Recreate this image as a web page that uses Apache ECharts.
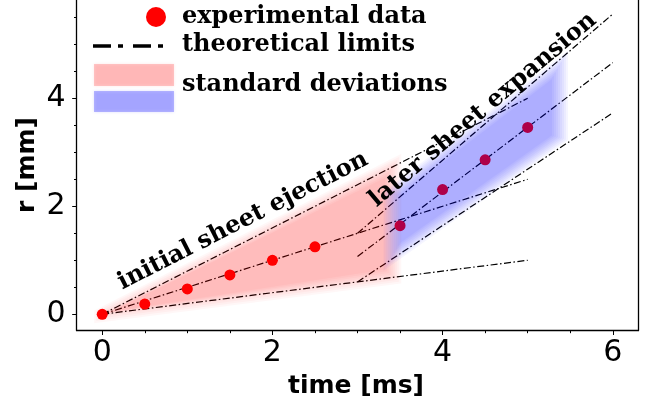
<!DOCTYPE html>
<html>
<head>
<meta charset="utf-8">
<script src="https://cdn.jsdelivr.net/npm/echarts@6/dist/echarts.min.js"></script>
<style>html,body{margin:0;padding:0;background:#fff;}#c{width:649px;height:408px;}</style>
</head>
<body>
<div id="c"></div>
<script>
// ---- data ----
const expTime = [0, 0.5, 1, 1.5, 2, 2.5, 3.5, 4, 4.5, 5];
const expRadius = [0, 0.19, 0.47, 0.73, 1.0, 1.25, 1.64, 2.31, 2.86, 3.46];

// theoretical limits: segments (t0,r0) -> (t1,r1)
const limitT0 = [0, 0, 0, 3, 3, 3];
const limitR0 = [0, 0, 0, 0.6, 1.07, 1.5];
const limitT1 = [5, 5, 5, 6, 6, 6];
const limitR1 = [1.0, 2.5, 4.0, 3.73, 4.66, 5.56];

// standard deviation bands
const initialBandT = [0, 3.42];
const initialBandLow = [0, 0.7];
const initialBandHigh = [0, 2.75];
const laterBandT = [3.4, 5.38];
const laterBandLow = [1.06, 3.27];
const laterBandHigh = [2.24, 4.62];

const majorTicks = [0, 2, 4, 6];
const tickLabels = ['0', '2', '4', '6'];
const minorTicks = [0, 0.5, 1, 1.5, 2, 2.5, 3, 3.5, 4, 4.5, 5, 5.5, 6];

const xMin = -0.3, xMax = 6.3, yMin = -0.3, yMax = 5.82;

// ---- chart ----
const chart = echarts.init(document.getElementById('c'), null, {renderer: 'canvas'});

const tickFont = {fontFamily: 'DejaVu Sans', fontSize: 30, color: '#000'};

function majorAxis(pos, isX) {
  return {
    type: 'value', min: isX ? xMin : yMin, max: isX ? xMax : yMax, position: pos,
    splitLine: {show: false},
    axisLine: {show: true, onZero: false, lineStyle: {color: '#000', width: 1.3}},
    axisTick: {show: true, length: 4.5, lineStyle: {color: '#000', width: 1}, customValues: majorTicks},
    axisLabel: Object.assign({show: true, margin: isX ? 8 : 11, customValues: majorTicks,
      formatter: v => tickLabels[majorTicks.indexOf(v)] ?? ''}, tickFont)
  };
}
function minorAxis(pos, isX) {
  return {
    type: 'value', min: isX ? xMin : yMin, max: isX ? xMax : yMax, position: pos,
    splitLine: {show: false},
    axisLine: {show: false, onZero: false},
    axisTick: {show: true, length: 2.7, lineStyle: {color: '#000', width: 1}, customValues: minorTicks},
    axisLabel: {show: false}
  };
}

const LAYERS = [-8, -6, -4, -2, 0, 2, 4, 6, 8];

function bandSeries(name, ts, lows, highs, rgb, totalAlpha, z) {
  const layerAlpha = 1 - Math.pow(1 - totalAlpha, 1 / LAYERS.length);
  return {
    type: 'custom', name, z, silent: true, xAxisIndex: 0, yAxisIndex: 0,
    data: [[ts[0], lows[0], highs[0], ts[1], lows[1], highs[1]]],
    encode: {x: [0, 3], y: [1, 2, 4, 5]},
    renderItem: function (params, api) {
      const L0 = api.coord([api.value(0), api.value(1)]);
      const H0 = api.coord([api.value(0), api.value(2)]);
      const L1 = api.coord([api.value(3), api.value(4)]);
      const H1 = api.coord([api.value(3), api.value(5)]);
      const f = (A, B, X) => A[1] + (B[1] - A[1]) * (X - A[0]) / (B[0] - A[0]);
      const children = LAYERS.map(d => {
        const X0 = L0[0] - d, X1 = L1[0] + d;
        let yh0 = f(H0, H1, X0) - d, yh1 = f(H0, H1, X1) - d;
        let yl0 = f(L0, L1, X0) + d, yl1 = f(L0, L1, X1) + d;
        if (yh0 > yl0) { const m = (yh0 + yl0) / 2; yh0 = m; yl0 = m; }
        if (yh1 > yl1) { const m = (yh1 + yl1) / 2; yh1 = m; yl1 = m; }
        return {
          type: 'polygon',
          shape: {points: [[X0, yl0], [X1, yl1], [X1, yh1], [X0, yh0]]},
          style: {fill: 'rgba(' + rgb + ',' + layerAlpha.toFixed(4) + ')'}
        };
      });
      return {type: 'group', children};
    }
  };
}

const series = [];
for (let i = 0; i < limitT0.length; i++) {
  series.push({
    type: 'line', name: 'theoretical limits', z: 2,
    data: [[limitT0[i], limitR0[i]], [limitT1[i], limitR1[i]]],
    symbol: 'none', silent: true,
    lineStyle: {color: '#000', width: 1.2, type: [7, 2.5, 1.5, 2.5]}
  });
}
series.push({
  type: 'scatter', name: 'experimental data', z: 3,
  data: expTime.map((t, i) => [t, expRadius[i]]),
  symbol: 'circle', symbolSize: 11,
  itemStyle: {color: '#ff0000', opacity: 1}
});
series.push(bandSeries('initial band', initialBandT, initialBandLow, initialBandHigh, '255,0,0', 0.24, 5));
series.push(bandSeries('later band', laterBandT, laterBandLow, laterBandHigh, '0,0,255', 0.29, 5));

const serifBold = 'bold 24px "DejaVu Serif"';
const sansBold = 'bold 25px "DejaVu Sans"';
const txt = (text, x, y, font, align, rot) => ({
  type: 'text', x, y, rotation: rot || 0, z: 100,
  style: {text, font, fill: '#000', textAlign: align, textVerticalAlign: 'middle', align, verticalAlign: 'middle'}
});

chart.setOption({
  animation: false,
  backgroundColor: '#fff',
  grid: {left: 76.7, right: 10.7, top: 0, bottom: 77.5, show: false},
  xAxis: [majorAxis('bottom', true), minorAxis('bottom', true)],
  yAxis: [majorAxis('left', false), minorAxis('left', false),
    {type: 'value', min: yMin, max: yMax, position: 'right', splitLine: {show: false},
     axisLine: {show: true, onZero: false, lineStyle: {color: '#000', width: 1.3}},
     axisTick: {show: false}, axisLabel: {show: false}}],
  series: series,
  graphic: [
    // legend
    {type: 'circle', shape: {cx: 156, cy: 17, r: 10}, style: {fill: '#ff0000'}, z: 100},
    txt('experimental data', 182, 17, serifBold, 'left'),
    {type: 'line', shape: {x1: 93, y1: 46, x2: 173, y2: 46}, style: {stroke: '#000', lineWidth: 3.5, lineDash: [18, 7, 5, 10]}, z: 100},
    txt('theoretical limits', 182, 45, serifBold, 'left'),
    {type: 'rect', shape: {x: 94, y: 64, width: 80, height: 22}, style: {fill: 'rgba(255,0,0,0.2)', shadowBlur: 3, shadowColor: 'rgba(255,0,0,0.5)'}, z: 100},
    {type: 'rect', shape: {x: 94, y: 91, width: 80, height: 21}, style: {fill: 'rgba(0,0,255,0.26)', shadowBlur: 3, shadowColor: 'rgba(0,0,255,0.5)'}, z: 100},
    txt('standard deviations', 182, 85, serifBold, 'left'),
    // annotations
    txt('initial sheet ejection', 243, 221, serifBold, 'center', 27 * Math.PI / 180),
    txt('later sheet expansion', 483, 110, serifBold, 'center', 40 * Math.PI / 180),
    // axis titles
    txt('time [ms]', 356, 386, sansBold, 'center'),
    txt('r [mm]', 27, 165, sansBold, 'center', Math.PI / 2)
  ]
});
</script>
</body>
</html>
